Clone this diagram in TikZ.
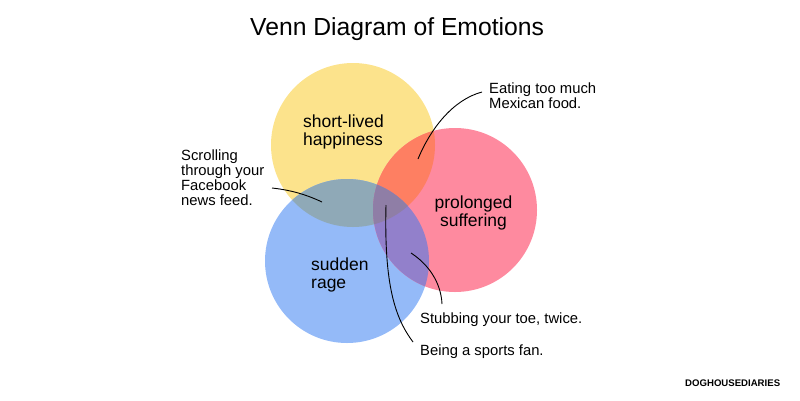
\documentclass[tikz,border=0pt]{standalone}
\usepackage{fontspec}
\setmainfont{Liberation Sans}
\definecolor{joyyellow}{HTML}{FCE38C}
\definecolor{rageblue}{HTML}{94BAF8}
\definecolor{painpink}{HTML}{FE8A9F}
\definecolor{joyrage}{HTML}{8FA9B7}
\definecolor{joypain}{HTML}{FE7F62}
\definecolor{ragepain}{HTML}{9280CB}
\definecolor{allthree}{HTML}{8F7EA6}
\usetikzlibrary{positioning}

\begin{document}
\begin{tikzpicture}[x=1pt, y=-1pt,
  note/.style={align=left, inner sep=0pt, anchor=base west,
    font=\fontsize{14.8}{14.7}\selectfont},
  feel/.style={align=left, inner sep=0pt, anchor=base west,
    font=\fontsize{17.5}{18}\selectfont},
  lead/.style={draw=black, line width=0.9pt},
]
  \useasboundingbox (0,0) rectangle (800,400);
  % circle centres
  \coordinate (happy) at (353,145);
  \coordinate (rage) at (347,261);
  \coordinate (pain) at (455,210);
  \def\rad{82}

  % single sets
  \fill[joyyellow] (happy) circle (\rad);
  \fill[rageblue] (rage) circle (\rad);
  \fill[painpink] (pain) circle (\rad);
  % pairwise overlaps
  \begin{scope}
    \clip (happy) circle (\rad);
    \fill[joyrage] (rage) circle (\rad);
    \fill[joypain] (pain) circle (\rad);
  \end{scope}
  \begin{scope}
    \clip (rage) circle (\rad);
    \fill[ragepain] (pain) circle (\rad);
  \end{scope}
  % all three
  \begin{scope}
    \clip (happy) circle (\rad);
    \clip (rage) circle (\rad);
    \fill[allthree] (pain) circle (\rad);
  \end{scope}

  % title and set labels (base = last line)
  \node[inner sep=0pt, anchor=base west, font=\fontsize{24.7}{26}\selectfont]
    (title) at (250,35) {Venn Diagram of Emotions};
  \node[feel] (happylbl) at (303,145) {short-lived\\happiness};
  \node[feel, align=center, anchor=base] (painlbl) at (473.5,226) {prolonged\\suffering};
  \node[feel] (ragelbl) at (311,288) {sudden\\rage};

  % notes
  \node[note] (scroll) at (181,205) {Scrolling\\through your\\Facebook\\news feed.};
  \node[note] (eat) at (489,108) {Eating too much\\Mexican food.};
  \node[note] (toe) at (420,323) {Stubbing your toe, twice.};
  \node[note] (sport) at (420,355) {Being a sports fan.};
  \node[inner sep=0pt, anchor=base west, font=\bfseries\fontsize{9.6}{10}\selectfont]
    (brand) at (685,386) {DOGHOUSEDIARIES};

  % leader lines
  \coordinate (eatA) at (482,92);
  \coordinate (eatB) at (418,159);
  \coordinate (scrollA) at (272,188);
  \coordinate (scrollB) at (322,202);
  \coordinate (sportA) at (413,342);
  \coordinate (sportB) at (386,205);
  \coordinate (toeA) at (442,304);
  \coordinate (toeB) at (411,253);
  \draw[lead] (eatA) .. controls (452,100) and (430,130) .. (eatB);
  \draw[lead] (scrollA) .. controls (290,190) and (305,194) .. (scrollB);
  \draw[lead] (sportA) .. controls (395,318) and (384,285) .. (sportB);
  \draw[lead] (toeA) .. controls (441,282) and (428,264) .. (toeB);
\end{tikzpicture}
\end{document}
